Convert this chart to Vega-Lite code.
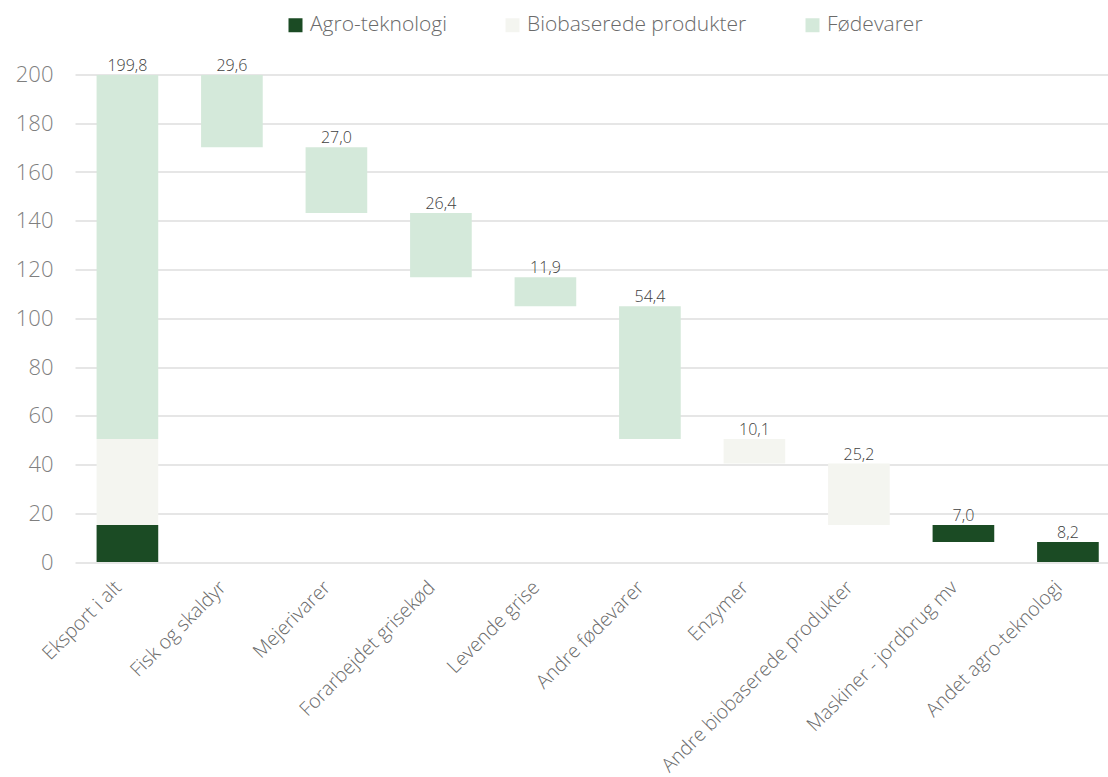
{
  "$schema": "https://vega.github.io/schema/vega-lite/v6.json",
  "autosize": "none",
  "width": 1033,
  "height": 487.5,
  "padding": {"left": 75, "top": 74.5, "right": 0, "bottom": 215},
  "background": "white",
  "config": {
    "view": {"stroke": null},
    "font": "Open Sans"
  },
  "data": {
    "values": [
      {"category": "Eksport i alt", "series": "Agro-teknologi", "lo": 0, "hi": 15.2, "label": null},
      {"category": "Eksport i alt", "series": "Biobaserede produkter", "lo": 15.2, "hi": 50.5, "label": null},
      {"category": "Eksport i alt", "series": "Fødevarer", "lo": 50.5, "hi": 199.8, "label": "199,8"},
      {"category": "Fisk og skaldyr", "series": "Fødevarer", "lo": 170.2, "hi": 199.8, "label": "29,6"},
      {"category": "Mejerivarer", "series": "Fødevarer", "lo": 143.2, "hi": 170.2, "label": "27,0"},
      {"category": "Forarbejdet grisekød", "series": "Fødevarer", "lo": 116.8, "hi": 143.2, "label": "26,4"},
      {"category": "Levende grise", "series": "Fødevarer", "lo": 104.9, "hi": 116.8, "label": "11,9"},
      {"category": "Andre fødevarer", "series": "Fødevarer", "lo": 50.5, "hi": 104.9, "label": "54,4"},
      {"category": "Enzymer", "series": "Biobaserede produkter", "lo": 40.4, "hi": 50.5, "label": "10,1"},
      {"category": "Andre biobaserede produkter", "series": "Biobaserede produkter", "lo": 15.2, "hi": 40.4, "label": "25,2"},
      {"category": "Maskiner - jordbrug mv", "series": "Agro-teknologi", "lo": 8.2, "hi": 15.2, "label": "7,0"},
      {"category": "Andet agro-teknologi", "series": "Agro-teknologi", "lo": 0, "hi": 8.2, "label": "8,2"}
    ]
  },
  "encoding": {
    "x": {
      "field": "category",
      "type": "nominal",
      "sort": null,
      "scale": {"paddingInner": 0.41, "paddingOuter": 0.1475, "align": 0.7},
      "axis": {
        "title": null,
        "labelAngle": -45,
        "labelAlign": "right",
        "labelBaseline": "middle",
        "labelFontSize": 19.5,
        "labelFontWeight": 300,
        "labelColor": "#6a6a6a",
        "labelPadding": 22,
        "labelOffset": -9,
        "labelLimit": 0,
        "ticks": false,
        "domain": false,
        "labelFont": "Open Sans"
      }
    }
  },
  "layer": [
    {
      "mark": {"type": "bar"},
      "encoding": {
        "y": {
          "field": "lo",
          "type": "quantitative",
          "scale": {"domain": [0, 200], "nice": false},
          "axis": {
            "title": null,
            "values": [0, 20, 40, 60, 80, 100, 120, 140, 160, 180, 200],
            "gridColor": "#dedede",
            "gridWidth": 1.5,
            "domain": false,
            "ticks": false,
            "labelFontSize": 22,
            "labelColor": "#7f7f7f",
            "labelPadding": 22,
            "labelFont": "Open Sans",
            "labelFontWeight": 300
          }
        },
        "y2": {"field": "hi"},
        "color": {
          "field": "series",
          "type": "nominal",
          "scale": {
            "domain": ["Agro-teknologi", "Biobaserede produkter", "Fødevarer"],
            "range": ["#1b4b24", "#f4f5f0", "#d4e9da"]
          },
          "legend": {
            "title": null,
            "orient": "none",
            "direction": "horizontal",
            "legendX": 210,
            "legendY": -60,
            "symbolType": "square",
            "symbolSize": 196,
            "symbolStrokeWidth": 0,
            "labelFontSize": 21,
            "labelFontWeight": 300,
            "labelColor": "#6a6a6a",
            "labelFont": "Open Sans",
            "labelOffset": 4,
            "labelLimit": 0,
            "columnPadding": 55
          }
        }
      }
    },
    {
      "transform": [{"filter": "datum.label != null"}],
      "mark": {"type": "text", "baseline": "alphabetic", "dy": -4, "fontSize": 16, "fontWeight": 300, "color": "#404040", "font": "Open Sans"},
      "encoding": {
        "y": {"field": "hi", "type": "quantitative"},
        "text": {"field": "label"}
      }
    }
  ]
}
